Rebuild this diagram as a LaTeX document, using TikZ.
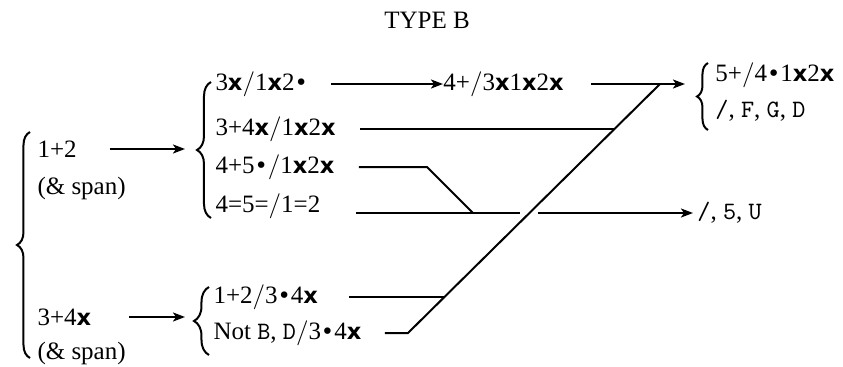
\documentclass[tikz,border=0pt]{standalone}
\usepackage{fontspec}
\setmainfont{Liberation Serif}
\newfontfamily\crossfont[Scale=0.9]{DejaVu Sans}
\usetikzlibrary{arrows.meta,decorations.pathreplacing}

\newcommand{\xx}{{\crossfont\bfseries x}}
\newcommand{\bu}{{\crossfont\textbullet}}
\newcommand{\sla}{$/$}

\begin{document}
\begin{tikzpicture}[x=0.4pt, y=-0.4pt,
    txt/.style={anchor=west, inner sep=0pt},
    brc/.style={line width=0.8pt, decorate, decoration={brace, amplitude=#1}},
    ln/.style={line width=0.8pt},
    arr/.style={ln, -{Stealth[length=4.8pt, width=3.6pt, inset=1.2pt]}}]

    \useasboundingbox (0,0) rectangle (843,367);

    % -------------------------------
    % title
    % -------------------------------
    \node (title) at (427,20) {TYPE B};

    % -------------------------------
    % left column
    % -------------------------------
    \draw[brc=5.2pt] (30,358) -- (30,132);
    \coordinate (lb) at (17,245);
    \node[txt] (a1) at (37,149) {1+2};
    \node[txt] (a1s) at (37,188) {(\& span)};
    \node[txt] (a2) at (37,317) {3+4\xx};
    \node[txt] (a2s) at (37,353) {(\& span)};

    % -------------------------------
    % middle column: upper group
    % -------------------------------
    \draw[brc=5.6pt] (211,218) -- (211,82);
    \coordinate (tb) at (197,150);
    \node[txt] (r1) at (215,84) {3\xx\sla1\xx2\bu};
    \node[txt] (r2) at (215,129) {3+4\xx\sla1\xx2\xx};
    \node[txt] (r3) at (215,167) {4+5\bu\sla1\xx2\xx};
    \node[txt] (r4) at (215,206) {4=5=\sla1=2};

    % -------------------------------
    % middle column: lower group
    % -------------------------------
    \draw[brc=6pt] (209,355) -- (209,287);
    \coordinate (bb) at (193,321);
    \node[txt] (b1) at (213,297) {1+2\sla3\bu4\xx};
    \node[txt] (b2) at (213,333) {Not \texttt{B}, \texttt{D}\sla3\bu4\xx};

    % -------------------------------
    % right column
    % -------------------------------
    \node[txt] (t2) at (443,84) {4+\sla3\xx1\xx2\xx};
    \draw[brc=4.4pt] (708,130) -- (708,63);
    \coordinate (rb) at (697,96);
    \node[txt] (q1) at (715,75) {5+\sla4\bu1\xx2\xx};
    \node[txt] (q2) at (715,111) {\texttt{/}, \texttt{F}, \texttt{G}, \texttt{D}};
    \node[txt] (u) at (697,213) {\texttt{/}, \texttt{5}, \texttt{U}};

    % bends and joins
    \coordinate (J) at (660,84);
    \coordinate (B) at (408,333);
    \coordinate (k2) at (614,129);
    \coordinate (k5) at (444,297);
    \coordinate (c3) at (427,167);
    \coordinate (m4) at (473,213);
    \coordinate (g1) at (520,213);
    \coordinate (g2) at (538,213);

    % arrows into the groups
    \draw[arr, shorten <=13pt, shorten >=4.8pt] (a1.east) -- (a1.east -| tb);
    \draw[arr, shorten <=15pt, shorten >=3.2pt] (a2.east) -- (a2.east -| bb);

    % upper row
    \draw[arr, shorten <=9.2pt] (r1.east) -- (t2.west);
    \draw[arr, shorten <=10.8pt, shorten >=4.8pt] (t2.east) -- (t2.east -| rb);

    % rows into the long diagonal
    \draw[ln, shorten <=9.6pt] (r2.east) -- (k2);
    \draw[ln, shorten <=12.4pt] (b1.east) -- (k5);
    \draw[ln, shorten <=9.2pt] (b2.east) -- (B) -- (J);

    % rows into the lower arrow
    \draw[ln, shorten <=9.6pt] (r3.east) -- (c3) -- (m4);
    \draw[ln, shorten <=14pt] (r4.east |- m4) -- (g1);
    \draw[arr, shorten >=1.6pt] (g2) -- (u.west);

\end{tikzpicture}
\end{document}
